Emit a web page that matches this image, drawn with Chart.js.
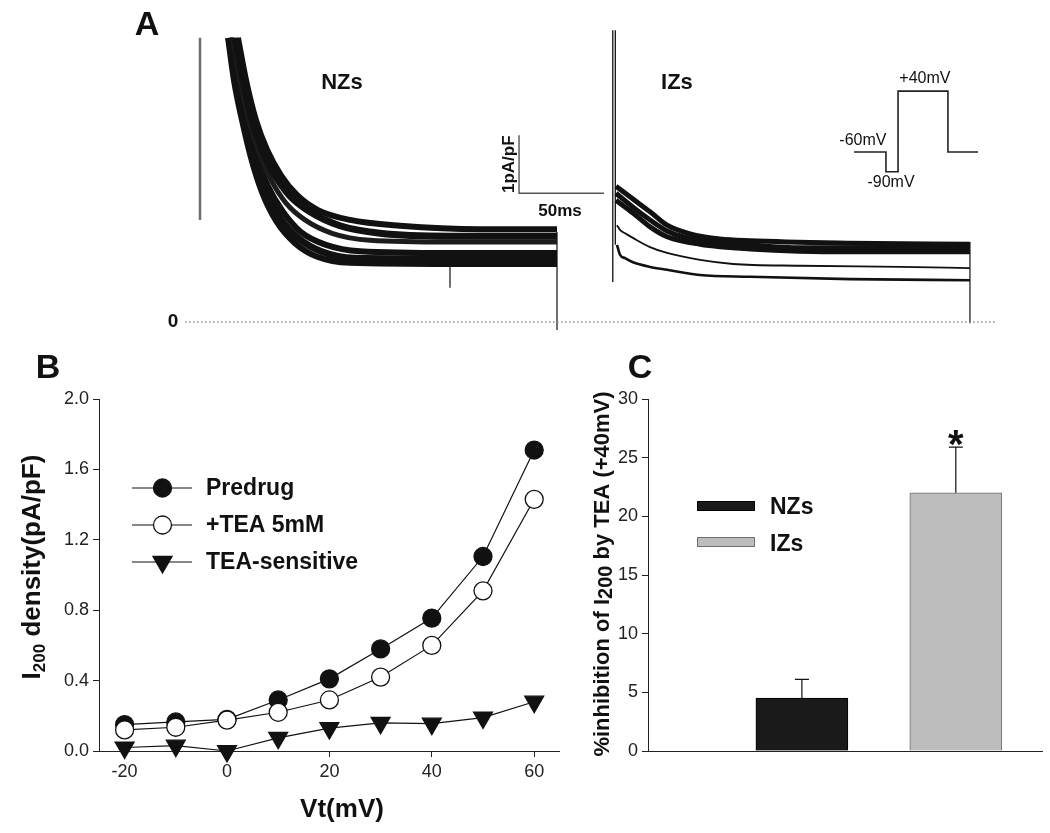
<!DOCTYPE html>
<html>
<head>
<meta charset="utf-8">
<script src="https://cdn.jsdelivr.net/npm/chart.js@4.4.1/dist/chart.umd.min.js"></script>
<style>
  html, body { margin: 0; padding: 0; background: #fff; }
  #wrap { position: relative; width: 1050px; height: 833px; }
  canvas { position: absolute; }
  #chartA { left: 0; top: 0; }
  #chartB { left: 0; top: 340px; }
  #chartC { left: 580px; top: 340px; }
</style>
</head>
<body>
<div id="wrap">
  <canvas id="chartA" width="1050" height="340"></canvas>
  <canvas id="chartB" width="572" height="493"></canvas>
  <canvas id="chartC" width="470" height="493"></canvas>
</div>
<script>
// Panel A: current traces, [time (ms), current (pA/pF)]
const nzTrace1 = [[22.6,4.90],[27.4,4.17],[33.3,3.48],[39.9,2.97],[48.2,2.53],[57.7,2.19],[70.2,1.93],[89.3,1.76],[119.0,1.66],[166.7,1.60],[212.5,1.60]];
const nzTrace2 = [[20.8,4.90],[25.6,4.17],[31.0,3.48],[36.9,2.97],[44.6,2.53],[53.6,2.17],[65.5,1.90],[83.3,1.66],[107.1,1.53],[148.8,1.48],[212.5,1.48]];
const nzTrace3 = [[19.6,4.90],[23.8,4.17],[29.2,3.48],[35.1,2.93],[42.3,2.45],[51.2,2.05],[62.5,1.76],[78.6,1.53],[101.2,1.41],[148.8,1.38],[212.5,1.38]];
const nzTrace4 = [[18.5,4.90],[22.6,4.17],[27.4,3.48],[33.3,2.88],[40.5,2.34],[49.4,1.90],[60.1,1.55],[75.0,1.33],[95.2,1.22],[148.8,1.19],[212.5,1.19]];
const nzTrace5 = [[17.3,4.90],[21.4,4.17],[26.2,3.48],[31.5,2.84],[38.7,2.28],[47.6,1.79],[58.3,1.45],[72.6,1.21],[92.3,1.10],[148.8,1.09],[212.5,1.09]];
const nzTrace6 = [[16.7,4.90],[20.2,4.17],[25.0,3.48],[30.4,2.83],[36.9,2.24],[45.8,1.72],[56.5,1.36],[70.2,1.12],[89.3,1.02],[148.8,1.00],[212.5,1.00]];
const nzSpike = [[148.8,1.10],[148.8,0.59]];
const nzStart = [[0,4.90],[0,1.76]];
const nzEnd = [[212.5,1.55],[212.5,-0.14]];

const izTraceA = [[247.6,2.34],[257.7,2.12],[267.9,1.90],[278.0,1.67],[291.7,1.52],[309.5,1.43],[327.4,1.40],[386.9,1.36],[458.3,1.34]];
const izTraceB = [[247.6,2.22],[257.7,1.98],[267.9,1.76],[278.0,1.57],[287.5,1.47],[307.7,1.38],[327.4,1.33],[357.1,1.28],[416.7,1.28],[458.3,1.28]];
const izTraceC = [[247.6,2.10],[257.7,1.88],[267.9,1.64],[278.0,1.47],[297.6,1.34],[327.4,1.26],[386.9,1.21],[458.3,1.21]];
const izTraceMid = [[248.2,1.67],[250.0,1.59],[253.0,1.53],[257.7,1.45],[267.9,1.29],[278.0,1.19],[297.6,1.07],[317.3,1.00],[357.1,0.97],[416.7,0.95],[458.3,0.93]];
const izTraceLow = [[248.2,1.33],[250.0,1.16],[253.0,1.10],[257.7,1.03],[267.9,0.95],[278.0,0.90],[297.6,0.81],[327.4,0.78],[386.9,0.74],[458.3,0.72]];
const izSpike1 = [[245.7,5.03],[245.7,0.69]];
const izSpike2 = [[247.2,5.03],[247.2,1.33]];
const izEnd = [[458.3,1.38],[458.3,-0.02]];

const zeroLine = [[-8.9,0],[474.4,0]];
const scaleBar = [[189.9,3.22],[189.9,2.22],[240.5,2.22]];
const stepProtocol = [[389.3,2.93],[408.3,2.93],[408.3,2.59],[415.5,2.59],[415.5,3.98],[445.2,3.98],[445.2,2.93],[463.1,2.93]];

// Panel B: I-V relation
const vtValues = [-20, -10, 0, 10, 20, 30, 40, 50, 60];
const predrug = [0.15, 0.165, 0.18, 0.29, 0.41, 0.58, 0.755, 1.105, 1.71];
const teaDrug = [0.12, 0.135, 0.175, 0.22, 0.29, 0.42, 0.60, 0.91, 1.43];
const teaSensitive = [0.02, 0.03, 0.0, 0.075, 0.13, 0.16, 0.155, 0.19, 0.28];
const xTicksB = [-20, 0, 20, 40, 60];
const yTicksB = [0, 0.4, 0.8, 1.2, 1.6, 2.0];

// Panel C: % inhibition by TEA
const groupsC = ["NZs", "IZs"];
const inhibition = [4.5, 22.0];
const inhibitionErr = [1.6, 3.9];
const yTicksC = [0, 5, 10, 15, 20, 25, 30];

const FONT = '"Liberation Sans", Arial, sans-serif';
const toPoints = (arr) => arr.map(([x, y]) => ({ x, y }));

function lineSet(arr, width, color, extra) {
    return Object.assign({
        data: toPoints(arr),
        borderColor: color,
        borderWidth: width,
        pointRadius: 0,
        fill: false,
    }, extra || {});
}

// Text for panel A placed in data units
const panelAText = {
    id: "panelAText",
    afterDraw(chart) {
        const { ctx, scales: { x, y } } = chart;
        const put = (t, vx, vy, font, rot) => {
            ctx.save();
            ctx.translate(x.getPixelForValue(vx), y.getPixelForValue(vy));
            if (rot) ctx.rotate(rot);
            ctx.font = font;
            ctx.fillStyle = "#111";
            ctx.textAlign = "center";
            ctx.textBaseline = "middle";
            ctx.fillText(t, 0, 0);
            ctx.restore();
        };
        put("NZs", 84.5, 4.12, "bold 22px " + FONT);
        put("IZs", 283.9, 4.12, "bold 22px " + FONT);
        put("0", -16.1, 0.0, "bold 19px " + FONT);
        put("1pA/pF", 184.0, 2.72, "bold 17px " + FONT, -Math.PI / 2);
        put("50ms", 214.3, 1.90, "bold 17px " + FONT);
        put("+40mV", 431.5, 4.19, "16px " + FONT);
        put("-60mV", 394.6, 3.12, "16px " + FONT);
        put("-90mV", 411.3, 2.40, "16px " + FONT);
        // panel letter
        ctx.save();
        ctx.font = "bold 34px " + FONT;
        ctx.fillStyle = "#111";
        ctx.textAlign = "center";
        ctx.textBaseline = "middle";
        ctx.fillText("A", 147, 26);
        ctx.restore();
    },
};

const traceStyle = { cubicInterpolationMode: "monotone" };

const chartA = new Chart(document.getElementById("chartA"), {
    type: "line",
    data: {
        datasets: [
            lineSet(zeroLine, 1.3, "#8a8a8a", { borderDash: [1.5, 2.5] }),
            lineSet(nzStart, 2.5, "#6e6e6e"),
            lineSet(nzTrace1, 6, "#111", traceStyle),
            lineSet(nzTrace2, 7, "#111", traceStyle),
            lineSet(nzTrace3, 5, "#1c1c1c", traceStyle),
            lineSet(nzTrace4, 6, "#111", traceStyle),
            lineSet(nzTrace5, 7, "#111", traceStyle),
            lineSet(nzTrace6, 6, "#111", traceStyle),
            lineSet(nzSpike, 1.2, "#111"),
            lineSet(nzEnd, 1.2, "#111"),
            lineSet(izSpike1, 1.3, "#111"),
            lineSet(izSpike2, 1.3, "#111"),
            lineSet(izTraceA, 5, "#111", traceStyle),
            lineSet(izTraceB, 5, "#111", traceStyle),
            lineSet(izTraceC, 5, "#111", traceStyle),
            lineSet(izTraceMid, 1.8, "#111", traceStyle),
            lineSet(izTraceLow, 2.6, "#111", traceStyle),
            lineSet(izEnd, 1.2, "#111"),
            lineSet(scaleBar, 1.4, "#555"),
            lineSet(stepProtocol, 1.6, "#222"),
        ],
    },
    options: {
        responsive: false,
        animation: false,
        layout: { padding: 0 },
        plugins: { legend: { display: false }, tooltip: { enabled: false } },
        scales: {
            x: { type: "linear", min: -119.05, max: 505.95, display: false },
            y: { type: "linear", min: -0.3103, max: 5.552, display: false },
        },
    },
    plugins: [panelAText],
});

// Legend, titles and letter for panel B
const panelBDecor = {
    id: "panelBDecor",
    afterDraw(chart) {
        const ctx = chart.ctx;
        ctx.save();
        ctx.fillStyle = "#111";
        ctx.strokeStyle = "#111";
        const rows = [
            { label: "Predrug", fill: "#111", shape: "circle", y: 148 },
            { label: "+TEA 5mM", fill: "#fff", shape: "circle", y: 185 },
            { label: "TEA-sensitive", fill: "#111", shape: "triangle", y: 222 },
        ];
        rows.forEach((r) => {
            ctx.lineWidth = 1.2;
            ctx.beginPath();
            ctx.moveTo(132, r.y);
            ctx.lineTo(192, r.y);
            ctx.stroke();
            ctx.beginPath();
            if (r.shape === "circle") {
                ctx.arc(162.5, r.y, 9, 0, Math.PI * 2);
            } else {
                const rad = 11;
                ctx.moveTo(162.5 - rad * 0.866, r.y - rad / 2);
                ctx.lineTo(162.5 + rad * 0.866, r.y - rad / 2);
                ctx.lineTo(162.5, r.y + rad);
                ctx.closePath();
            }
            ctx.fillStyle = r.fill;
            ctx.fill();
            ctx.lineWidth = 1.3;
            ctx.stroke();
            ctx.fillStyle = "#111";
            ctx.font = "bold 23px " + FONT;
            ctx.textAlign = "left";
            ctx.textBaseline = "middle";
            ctx.fillText(r.label, 206, r.y + 1);
        });

        // x title
        ctx.font = "bold 26px " + FONT;
        ctx.textAlign = "center";
        ctx.textBaseline = "middle";
        ctx.fillText("Vt(mV)", 342, 470);

        // y title with subscript
        ctx.save();
        ctx.translate(33, 227);
        ctx.rotate(-Math.PI / 2);
        const mainFont = "bold 26px " + FONT;
        const subFont = "bold 17px " + FONT;
        ctx.font = mainFont;
        const wI = ctx.measureText("I").width;
        const wRest = ctx.measureText(" density(pA/pF)").width;
        ctx.font = subFont;
        const wSub = ctx.measureText("200").width;
        let sx = -(wI + wSub + wRest) / 2;
        ctx.textAlign = "left";
        ctx.textBaseline = "middle";
        ctx.font = mainFont;
        ctx.fillText("I", sx, 0);
        sx += wI;
        ctx.font = subFont;
        ctx.fillText("200", sx, 7);
        sx += wSub;
        ctx.font = mainFont;
        ctx.fillText(" density(pA/pF)", sx, 0);
        ctx.restore();

        ctx.font = "bold 34px " + FONT;
        ctx.textAlign = "center";
        ctx.fillText("B", 48, 29);
        ctx.restore();
    },
};

const axisStyle = {
    grid: { display: true, drawOnChartArea: false, tickLength: 6, color: "#222", lineWidth: 1 },
    border: { display: true, color: "#222", width: 1 },
    ticks: { font: { family: FONT, size: 18 }, color: "#222", padding: 4 },
};

const chartB = new Chart(document.getElementById("chartB"), {
    type: "line",
    data: {
        datasets: [
            {
                label: "TEA-sensitive",
                data: vtValues.map((v, i) => ({ x: v, y: teaSensitive[i] })),
                borderColor: "#111",
                borderWidth: 1.2,
                pointStyle: "triangle",
                pointRotation: 180,
                pointRadius: 11,
                pointBackgroundColor: "#111",
                pointBorderColor: "#111",
                clip: false,
            },
            {
                label: "+TEA 5mM",
                data: vtValues.map((v, i) => ({ x: v, y: teaDrug[i] })),
                borderColor: "#111",
                borderWidth: 1.2,
                pointRadius: 9,
                pointBackgroundColor: "#fff",
                pointBorderColor: "#111",
                pointBorderWidth: 1.3,
                clip: false,
            },
            {
                label: "Predrug",
                data: vtValues.map((v, i) => ({ x: v, y: predrug[i] })),
                borderColor: "#111",
                borderWidth: 1.2,
                pointRadius: 9,
                pointBackgroundColor: "#111",
                pointBorderColor: "#111",
                pointBorderWidth: 1.3,
                clip: false,
            },
        ],
    },
    options: {
        responsive: false,
        animation: false,
        layout: { padding: { top: 59, right: 0, left: 0, bottom: 0 } },
        plugins: { legend: { display: false }, tooltip: { enabled: false } },
        scales: {
            x: Object.assign({}, axisStyle, {
                type: "linear",
                min: -25,
                max: 65,
                afterBuildTicks: (s) => { s.ticks = xTicksB.map((v) => ({ value: v })); },
                afterFit: (s) => { s.height = 82; },
            }),
            y: Object.assign({}, axisStyle, {
                type: "linear",
                min: 0,
                max: 2,
                afterBuildTicks: (s) => { s.ticks = yTicksB.map((v) => ({ value: v })); },
                afterFit: (s) => { s.width = 99; },
                ticks: Object.assign({}, axisStyle.ticks, { callback: (v) => Number(v).toFixed(1) }),
            }),
        },
    },
    plugins: [panelBDecor],
});

// Error bars, asterisk, legend and titles for panel C
const panelCDecor = {
    id: "panelCDecor",
    afterDatasetsDraw(chart) {
        const { ctx, scales: { y } } = chart;
        ctx.save();
        ctx.strokeStyle = "#111";
        ctx.lineWidth = 1.2;
        chart.data.datasets.forEach((ds, i) => {
            const bar = chart.getDatasetMeta(i).data[0];
            const top = y.getPixelForValue(inhibition[i] + inhibitionErr[i]);
            ctx.beginPath();
            ctx.moveTo(bar.x, bar.y);
            ctx.lineTo(bar.x, top);
            ctx.moveTo(bar.x - 7, top);
            ctx.lineTo(bar.x + 7, top);
            ctx.stroke();
            if (i === 1) {
                ctx.font = "bold 40px " + FONT;
                ctx.fillStyle = "#111";
                ctx.textAlign = "center";
                ctx.textBaseline = "alphabetic";
                const m = ctx.measureText("*");
                ctx.fillText("*", bar.x, top - 1 - m.actualBoundingBoxDescent);
            }
        });
        ctx.restore();
    },
    afterDraw(chart) {
        const ctx = chart.ctx;
        ctx.save();
        // legend
        const items = [
            { label: groupsC[0], fill: "#1a1a1a", stroke: "#000", y: 166, ty: 168 },
            { label: groupsC[1], fill: "#bdbdbd", stroke: "#6f6f6f", y: 202, ty: 205 },
        ];
        items.forEach((it) => {
            ctx.fillStyle = it.fill;
            ctx.fillRect(117, it.y - 5, 58, 10);
            ctx.strokeStyle = it.stroke;
            ctx.lineWidth = 1;
            ctx.strokeRect(117.5, it.y - 4.5, 57, 9);
            ctx.fillStyle = "#111";
            ctx.font = "bold 23px " + FONT;
            ctx.textAlign = "left";
            ctx.textBaseline = "middle";
            ctx.fillText(it.label, 190, it.ty);
        });

        // y title with subscript
        ctx.save();
        ctx.translate(22.5, 234);
        ctx.rotate(-Math.PI / 2);
        const mainFont = "bold 22px " + FONT;
        const subFont = "bold 20px " + FONT;
        const partA = "%inhibition of I";
        const partB = " by TEA (+40mV)";
        ctx.font = mainFont;
        const wA = ctx.measureText(partA).width;
        const wB = ctx.measureText(partB).width;
        ctx.font = subFont;
        const wS = ctx.measureText("200").width;
        let sx = -(wA + wS + wB) / 2;
        ctx.fillStyle = "#111";
        ctx.textAlign = "left";
        ctx.textBaseline = "middle";
        ctx.font = mainFont;
        ctx.fillText(partA, sx, 0);
        sx += wA;
        ctx.font = subFont;
        ctx.fillText("200", sx, 4);
        sx += wS;
        ctx.font = mainFont;
        ctx.fillText(partB, sx, 0);
        ctx.restore();

        ctx.fillStyle = "#111";
        ctx.font = "bold 34px " + FONT;
        ctx.textAlign = "center";
        ctx.textBaseline = "middle";
        ctx.fillText("C", 60, 29);
        ctx.restore();
    },
};

const chartC = new Chart(document.getElementById("chartC"), {
    type: "bar",
    data: {
        datasets: [
            {
                label: groupsC[0],
                data: [{ x: 1, y: inhibition[0] }],
                backgroundColor: "#1a1a1a",
                borderColor: "#000",
                borderWidth: 1,
                barThickness: 92,
                grouped: false,
            },
            {
                label: groupsC[1],
                data: [{ x: 2, y: inhibition[1] }],
                backgroundColor: "#bdbdbd",
                borderColor: "#6f6f6f",
                borderWidth: 1,
                barThickness: 92,
                grouped: false,
            },
        ],
    },
    options: {
        responsive: false,
        animation: false,
        layout: { padding: { top: 59, right: 8, left: 0, bottom: 0 } },
        plugins: { legend: { display: false }, tooltip: { enabled: false } },
        scales: {
            x: {
                type: "linear",
                min: 0,
                max: 2.56,
                offset: false,
                grid: { display: false },
                border: { display: true, color: "#222", width: 1 },
                ticks: { display: false },
                afterFit: (s) => { s.height = 82; },
            },
            y: Object.assign({}, axisStyle, {
                type: "linear",
                min: 0,
                max: 30,
                afterBuildTicks: (s) => { s.ticks = yTicksC.map((v) => ({ value: v })); },
                afterFit: (s) => { s.width = 68; },
            }),
        },
    },
    plugins: [panelCDecor],
});
</script>
</body>
</html>
